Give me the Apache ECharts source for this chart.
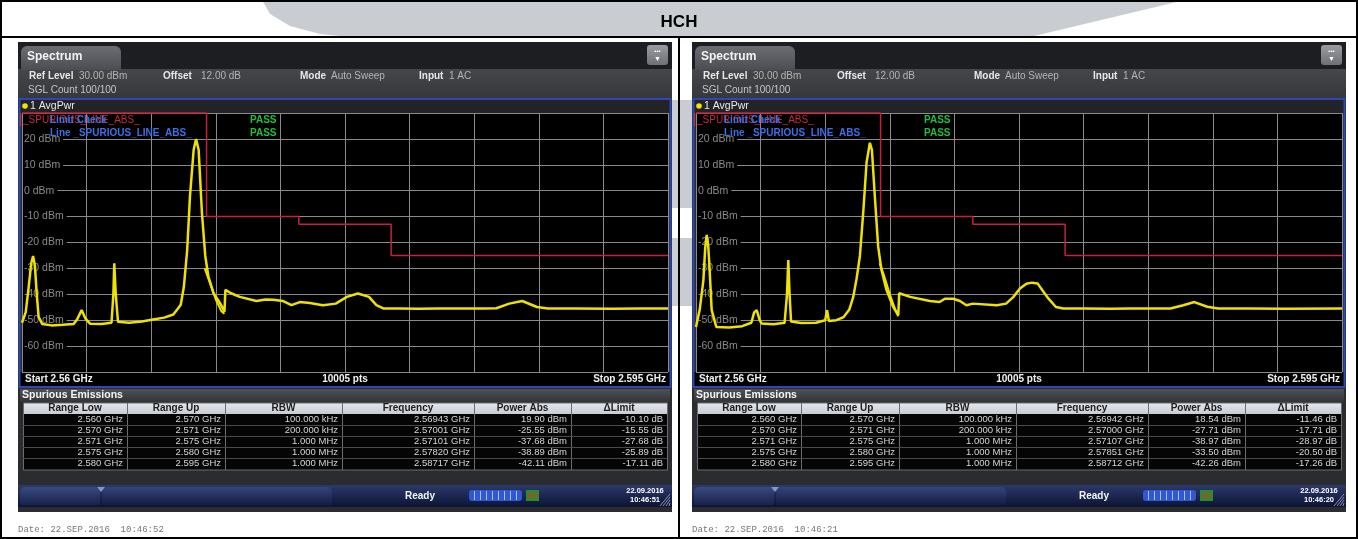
<!DOCTYPE html>
<html>
<head>
<meta charset="utf-8">
<script src="https://cdn.jsdelivr.net/npm/echarts@6.0.0/dist/echarts.min.js"></script>
<style>
html, body { margin: 0; padding: 0; background: #fff; }
#main { width: 1358px; height: 539px; }
</style>
</head>
<body>
<div id="main"></div>
<script>
// trace of the left screen (MHz, dBm)
var freqL = [2560.0, 2560.2, 2560.35, 2560.5, 2560.6, 2560.7, 2560.8, 2560.9, 2561.1, 2561.6, 2562.2, 2562.8, 2563.0, 2563.23, 2563.45, 2563.7, 2564.3, 2564.85, 2564.95, 2565.0, 2565.08, 2565.2, 2565.8, 2566.5, 2567.1, 2567.7, 2568.2, 2568.45, 2568.6, 2568.77, 2568.95, 2569.1, 2569.3, 2569.43, 2569.57, 2569.75, 2569.93, 2570.1, 2570.38, 2570.74, 2570.97, 2571.02, 2571.3, 2571.8, 2572.7, 2573.2, 2573.6, 2574.15, 2574.6, 2575.05, 2575.6, 2576.3, 2577.0, 2577.6, 2578.2, 2578.8, 2579.2, 2579.6, 2580.5, 2581.5, 2582.5, 2583.7, 2585.0, 2585.7, 2586.4, 2587.1, 2587.9, 2588.5, 2590.0, 2592.0, 2593.5, 2595.0];
var powL = [-51, -47, -38, -28, -25.2, -29, -40, -48.7, -51.5, -52, -51.8, -51.5, -49.5, -46.1, -49.5, -51.4, -51.5, -51, -40, -28, -40, -50.6, -51, -50.5, -49.7, -49, -47.8, -45.5, -44, -37.1, -22.9, -2.3, 15.8, 19.9, 15.8, -8.7, -25.2, -33.2, -39.6, -43.5, -46.7, -38.3, -39.5, -41.0, -42.6, -42.0, -42.1, -42.6, -44.2, -43.0, -43.4, -44.2, -43.6, -41.0, -39.7, -41.0, -44.2, -45.5, -45.5, -45.6, -45.5, -45.5, -45.5, -45.4, -43.6, -42.6, -44.9, -45.5, -45.5, -45.6, -45.5, -45.5];

// trace of the right screen (MHz, dBm)
var freqR = [2560.0, 2560.2, 2560.4, 2560.5, 2560.58, 2560.66, 2560.72, 2560.85, 2561.1, 2561.8, 2562.5, 2563.0, 2563.15, 2563.29, 2563.45, 2563.56, 2564.2, 2564.8, 2564.93, 2565.0, 2565.07, 2565.15, 2565.7, 2566.5, 2567.0, 2567.1, 2567.2, 2567.6, 2568.0, 2568.3, 2568.52, 2568.7, 2568.88, 2569.06, 2569.24, 2569.42, 2569.53, 2569.69, 2569.87, 2570.05, 2570.32, 2570.68, 2570.96, 2571.01, 2571.6, 2572.67, 2573.2, 2573.48, 2573.94, 2574.3, 2574.65, 2575.0, 2576.3, 2576.8, 2577.2, 2577.55, 2577.9, 2578.2, 2578.51, 2578.7, 2579.1, 2579.5, 2579.9, 2581.0, 2582.5, 2583.5, 2585.7, 2586.4, 2587.0, 2587.7, 2588.3, 2590.0, 2592.0, 2595.0];
var powR = [-52.6, -46, -34.6, -22, -17.1, -21, -28, -46.1, -52.6, -52.8, -52.3, -51, -47, -46.1, -50, -51.3, -51.6, -51, -40, -26.8, -40, -50.5, -51.1, -51, -50, -46.1, -50.3, -50, -48.8, -46, -41, -34, -25.2, -8.5, 10.8, 18.5, 15.8, -2.3, -21.6, -30.6, -38.3, -44.8, -48, -39.6, -41, -42.6, -43, -41.7, -41.7, -42.6, -44.2, -43.6, -44.2, -43.6, -41, -37.8, -35.9, -35.5, -35.8, -37.8, -41.7, -44.9, -45.5, -45.5, -45.6, -45.5, -45.5, -44.2, -43, -44.8, -45.5, -45.5, -45.6, -45.5];

// noisy shoulder right after the carrier (lower edge of the band)
var shoulderFreqL = [2569.9, 2570.2, 2570.5, 2570.8, 2570.97];
var shoulderPowL = [-30, -36, -42, -46.5, -47.5];
var shoulderFreqR = [2569.95, 2570.2, 2570.5, 2570.8, 2570.96];
var shoulderPowR = [-28, -33, -40, -46, -48.5];

// limit line (same on both screens)
var limitFreq = [2560, 2570, 2570, 2575, 2575, 2580, 2580, 2595];
var limitPow = [30, 30, -10, -10, -13, -13, -25, -25];

// y tick labels
var yTicks = [20, 10, 0, -10, -20, -30, -40, -50, -60];

// spurious emissions tables
var colHeads = ['Range Low', 'Range Up', 'RBW', 'Frequency', 'Power Abs', '\u0394Limit'];
var rangeLow = ['2.560 GHz', '2.570 GHz', '2.571 GHz', '2.575 GHz', '2.580 GHz'];
var rangeUp = ['2.570 GHz', '2.571 GHz', '2.575 GHz', '2.580 GHz', '2.595 GHz'];
var rbw = ['100.000 kHz', '200.000 kHz', '1.000 MHz', '1.000 MHz', '1.000 MHz'];
var pkFreqL = ['2.56943 GHz', '2.57001 GHz', '2.57101 GHz', '2.57820 GHz', '2.58717 GHz'];
var pkPowL = [19.90, -25.55, -37.68, -38.89, -42.11];
var dLimL = [-10.10, -15.55, -27.68, -25.89, -17.11];
var pkFreqR = ['2.56942 GHz', '2.57000 GHz', '2.57107 GHz', '2.57851 GHz', '2.58712 GHz'];
var pkPowR = [18.54, -27.71, -38.97, -33.50, -42.26];
var dLimR = [-11.46, -17.71, -28.97, -20.50, -17.26];

var FONT = 'Liberation Sans';

function pairs(xs, ys) {
    return xs.map(function (x, i) { return [x, ys[i]]; });
}

function grad(c1, c2) {
    return { type: 'linear', x: 0, y: 0, x2: 0, y2: 1, colorStops: [{ offset: 0, color: c1 }, { offset: 1, color: c2 }] };
}

function R(x, y, w, h, fill, z, r) {
    return { type: 'rect', z: z, silent: true, shape: { x: x, y: y, width: w, height: h, r: r || 0 }, style: { fill: fill } };
}

function T(x, y, text, font, fill, align, z) {
    return { type: 'text', z: z || 6, silent: true, x: x, y: y,
        style: { text: text, font: font, fill: fill, textAlign: align || 'left', textVerticalAlign: 'middle' } };
}

function L(x1, y1, x2, y2, stroke, w, z) {
    return { type: 'line', z: z || 6, silent: true, shape: { x1: x1, y1: y1, x2: x2, y2: y2 }, style: { stroke: stroke, lineWidth: w || 1 } };
}

// one analyzer screen shot, shifted by ox
function panel(ox, clock, stamp, pkFreq, pkPow, dLim) {
    var e = [];
    var bold = 'bold 10px ' + FONT, norm = '10px ' + FONT, cell = '9.5px ' + FONT;
    // bezel
    e.push(R(ox + 18, 42, 654, 470, '#2b2c30', 1));
    e.push(R(ox + 18, 42, 654, 27, '#1d1e21', 1));
    e.push(R(ox + 18, 69, 654, 30, grad('#45464b', '#36373b'), 1));
    e.push(R(ox + 21, 46, 100, 24, grad('#6b6d73', '#4b4d52'), 2, [6, 6, 0, 0]));
    e.push(T(ox + 27, 57, 'Spectrum', 'bold 12px ' + FONT, '#f2f2f2'));
    e.push(R(ox + 647, 45, 21, 20, grad('#9a9ca1', '#6e7075'), 2, 3));
    e.push(T(ox + 657.5, 51, '\u2022\u2022\u2022', 'bold 6px ' + FONT, '#ffffff', 'center'));
    e.push(T(ox + 657.5, 59, '\u25BC', '7px ' + FONT, '#ffffff', 'center'));
    // info line
    e.push(T(ox + 29, 76, 'Ref Level', bold, '#e6e6e6'));
    e.push(T(ox + 79, 76, '30.00 dBm', norm, '#b4b4b4'));
    e.push(T(ox + 163, 76, 'Offset', bold, '#e6e6e6'));
    e.push(T(ox + 201, 76, '12.00 dB', norm, '#b4b4b4'));
    e.push(T(ox + 300, 76, 'Mode', bold, '#e6e6e6'));
    e.push(T(ox + 331, 76, 'Auto Sweep', norm, '#b4b4b4'));
    e.push(T(ox + 419, 76, 'Input', bold, '#e6e6e6'));
    e.push(T(ox + 449, 76, '1 AC', norm, '#b4b4b4'));
    e.push(T(ox + 28, 90, 'SGL Count 100/100', norm, '#c4c4c4'));
    // diagram frame
    e.push(R(ox + 19, 99, 652, 14, '#232327', 1));
    e.push(R(ox + 19, 372, 652, 15, '#000000', 1));
    e.push({ type: 'circle', z: 6, silent: true, shape: { cx: ox + 25, cy: 106, r: 2.8 }, style: { fill: '#f4e400' } });
    e.push(T(ox + 30, 106, '1 AvgPwr', '10.5px ' + FONT, '#e8e8e8'));
    e.push({ type: 'rect', z: 7, silent: true, shape: { x: ox + 19.5, y: 99, width: 651, height: 288 },
        style: { fill: null, stroke: '#2d47b4', lineWidth: 2 } });
    e.push(T(ox + 25, 379.5, 'Start 2.56 GHz', bold, '#f0f0f0'));
    e.push(T(ox + 345, 379.5, '10005 pts', bold, '#f0f0f0', 'center'));
    e.push(T(ox + 666, 379.5, 'Stop 2.595 GHz', bold, '#f0f0f0', 'right'));
    // limit check labels
    e.push(T(ox + 23, 120, '_SPURIOUS_LINE_ABS_', norm, '#c42a38'));
    e.push(L(ox + 20.5, 113, ox + 20.5, 126, '#c42a38', 1.2, 7));
    e.push(T(ox + 50, 120, 'Limit Check', bold, '#3d6fe6', 'left', 8));
    e.push(T(ox + 50, 133, 'Line _SPURIOUS_LINE_ABS_', bold, '#3d6fe6', 'left', 8));
    e.push(T(ox + 250, 120, 'PASS', bold, '#1fbf3c'));
    e.push(T(ox + 250, 133, 'PASS', bold, '#1fbf3c'));
    // spurious table
    e.push(R(ox + 20, 389, 650, 13, grad('#505156', '#333438'), 1));
    e.push(T(ox + 22, 395.5, 'Spurious Emissions', 'bold 10.5px ' + FONT, '#f4f4f4'));
    var cols = [23, 127, 225, 342, 474, 571, 667];
    e.push(R(ox + cols[0], 403, cols[6] - cols[0], 11, grad('#e4e7ec', '#c8ccd3'), 2));
    e.push(R(ox + cols[0], 414, cols[6] - cols[0], 56, '#050505', 2));
    for (var c = 0; c < 6; c++) {
        var cx = (cols[c] + cols[c + 1]) / 2;
        e.push(T(ox + cx, 408.5, colHeads[c], bold, '#1c1c1c', 'center'));
    }
    for (c = 1; c < 6; c++) {
        e.push(L(ox + cols[c] + 0.5, 403, ox + cols[c] + 0.5, 470, '#6c6c70', 1, 3));
    }
    e.push({ type: 'rect', z: 3, silent: true, shape: { x: ox + cols[0] + 0.5, y: 403, width: cols[6] - cols[0], height: 67 },
        style: { fill: null, stroke: '#6c6c70', lineWidth: 1 } });
    for (var r = 0; r < 5; r++) {
        var y = 419.5 + r * 11;
        if (r > 0) e.push(L(ox + cols[0], 414 + r * 11 + 0.5, ox + cols[6], 414 + r * 11 + 0.5, '#4a4a4e', 1, 3));
        var cells = [rangeLow[r], rangeUp[r], rbw[r], pkFreq[r], pkPow[r].toFixed(2) + ' dBm', dLim[r].toFixed(2) + ' dB'];
        for (c = 0; c < 6; c++) {
            e.push(T(ox + cols[c + 1] - 4, y, cells[c], cell, '#d6d6d6', 'right'));
        }
    }
    // status bar
    e.push(R(ox + 18, 485, 654, 22, grad('#2b3a6c', '#0c1433'), 2));
    e.push(R(ox + 20, 487, 80, 18, grad('#3a4a7e', '#18224a'), 3, [5, 5, 0, 0]));
    e.push(R(ox + 102, 487, 230, 18, grad('#34447a', '#141d42'), 3, [5, 5, 0, 0]));
    e.push({ type: 'polygon', z: 4, silent: true, shape: { points: [[ox + 97, 487], [ox + 105, 487], [ox + 101, 492]] }, style: { fill: '#8a96b8' } });
    e.push(T(ox + 420, 496, 'Ready', bold, '#f4f4f4', 'center'));
    e.push(R(ox + 469, 490, 53, 11, '#2f57d6', 4, 3));
    for (var s = 0; s < 8; s++) {
        e.push(L(ox + 474 + s * 6 + 0.5, 491, ox + 474 + s * 6 + 0.5, 500, '#a8c0ff', 1, 5));
    }
    e.push(R(ox + 526, 490, 13, 11, '#2f8a2f', 4));
    e.push(T(ox + 532.5, 495.5, '/X/', 'bold 8px ' + FONT, '#e03030', 'center'));
    e.push(T(ox + 645, 491, stamp, 'bold 7.5px ' + FONT, '#ffffff', 'center'));
    e.push(T(ox + 645, 500, clock, 'bold 7.5px ' + FONT, '#ffffff', 'center'));
    for (s = 0; s < 4; s++) {
        e.push(L(ox + 660 + s * 3, 506, ox + 670, 494 + s * 3, '#8790b0', 1, 5));
    }
    return e;
}

var elements = [];
// watermark swoosh
elements.push({ type: 'polygon', z: 0, silent: true,
    shape: { points: [[262, 0], [270, 14], [290, 26], [320, 34], [350, 37], [1030, 37], [1185, 0]] },
    style: { fill: '#c9cdd2' } });
elements.push(R(672, 100, 20, 108, '#c9cdd2', 0));
elements.push(R(672, 238, 20, 68, '#c9cdd2', 0));
// page frame
elements.push({ type: 'rect', z: 9, silent: true, shape: { x: 1, y: 1, width: 1356, height: 537 }, style: { fill: null, stroke: '#000', lineWidth: 2 } });
elements.push(L(0, 37, 1358, 37, '#000', 2, 9));
elements.push(L(679, 37, 679, 539, '#000', 2, 9));
elements.push(T(679, 22, 'HCH', 'bold 17px ' + FONT, '#000', 'center', 9));
elements = elements.concat(panel(0, '10:46:51', '22.09.2016', pkFreqL, pkPowL, dLimL));
elements = elements.concat(panel(674, '10:46:20', '22.09.2016', pkFreqR, pkPowR, dLimR));
elements.push(T(18, 530, 'Date: 22.SEP.2016  10:46:52', '9px Liberation Mono', '#777', 'left', 6));
elements.push(T(692, 530, 'Date: 22.SEP.2016  10:46:21', '9px Liberation Mono', '#777', 'left', 6));

function yAxisOf(gi) {
    return {
        gridIndex: gi, type: 'value', min: -70, max: 30, interval: 10, z: 3,
        axisLine: { show: false }, axisTick: { show: false },
        splitLine: { show: true, lineStyle: { color: '#8a8a8a', width: 1 } },
        axisLabel: {
            inside: true, margin: 1, color: '#8a8a8a', fontSize: 10.5, fontFamily: FONT,
            backgroundColor: '#000', padding: [0, 3, 0, 1],
            formatter: function (v) { return yTicks.indexOf(v) >= 0 ? v + ' dBm' : ''; }
        }
    };
}

function divAxis(gi) {
    return {
        gridIndex: gi, type: 'value', min: 0, max: 10, interval: 1, position: 'top', z: 3,
        axisLine: { show: false }, axisTick: { show: false }, axisLabel: { show: false },
        splitLine: { show: true, lineStyle: { color: '#8a8a8a', width: 1 } }
    };
}

function trace(name, xi, yi, xs, ys, w) {
    return { name: name, type: 'line', xAxisIndex: xi, yAxisIndex: yi, data: pairs(xs, ys),
        showSymbol: false, lineStyle: { color: '#efe200', width: w }, z: 4 };
}

var myChart = echarts.init(document.getElementById('main'), null, { renderer: 'canvas' });
var option = {
    animation: false,
    backgroundColor: '#ffffff',
    graphic: { elements: elements },
    grid: [
        { left: 22, top: 113, width: 646, height: 259, show: true, backgroundColor: '#000', borderWidth: 0, z: 2 },
        { left: 696, top: 113, width: 646, height: 259, show: true, backgroundColor: '#000', borderWidth: 0, z: 2 }
    ],
    xAxis: [
        { gridIndex: 0, type: 'value', min: 2560, max: 2595, show: false },
        divAxis(0),
        { gridIndex: 1, type: 'value', min: 2560, max: 2595, show: false },
        divAxis(1)
    ],
    yAxis: [yAxisOf(0), yAxisOf(1)],
    series: [
        trace('AvgPwr L', 0, 0, freqL, powL, 2.5),
        trace('Shoulder L', 0, 0, shoulderFreqL, shoulderPowL, 2),
        { name: 'Limit L', type: 'line', xAxisIndex: 0, yAxisIndex: 0, data: pairs(limitFreq, limitPow),
          showSymbol: false, clip: false, lineStyle: { color: '#c8203c', width: 1.5 }, z: 3 },
        trace('AvgPwr R', 2, 1, freqR, powR, 2.5),
        trace('Shoulder R', 2, 1, shoulderFreqR, shoulderPowR, 2),
        { name: 'Limit R', type: 'line', xAxisIndex: 2, yAxisIndex: 1, data: pairs(limitFreq, limitPow),
          showSymbol: false, clip: false, lineStyle: { color: '#c8203c', width: 1.5 }, z: 3 }
    ]
};
myChart.setOption(option);
</script>
</body>
</html>
